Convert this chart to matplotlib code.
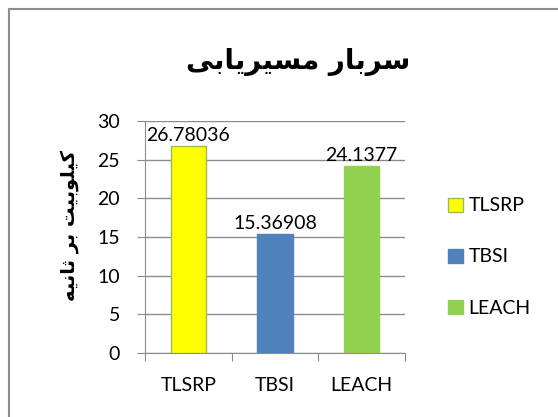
import matplotlib.pyplot as plt
from matplotlib.lines import Line2D
from matplotlib.patches import Patch

# data
categories = ['TLSRP', 'TBSI', 'LEACH']
values = [26.78036, 15.36908, 24.1377]
labels = ['26.78036', '15.36908', '24.1377']
colors = ['#FFFF00', '#4F81BD', '#92D050']
edges = ['#9BBB59', '#4F81BD', '#92D050']
yticks = [0, 5, 10, 15, 20, 25, 30]

# Persian text written in presentation forms, visual (left-to-right) order
title_fa = '\uFEB3\uFEAE\uFE91\uFE8E\uFEAD \uFEE3\uFEB4\uFEF4\uFEAE\uFEF3\uFE8E\uFE91\uFEF0'[::-1]
ylabel_fa = '\uFEDB\uFEF4\uFEE0\uFEEE\uFE91\uFEF4\uFE96 \uFE91\uFEAE \uFE9B\uFE8E\uFEE7\uFEF4\uFEEA'[::-1]

plt.rcParams['font.family'] = ['Lato', 'DejaVu Sans']

fig = plt.figure(figsize=(5.58, 4.17), dpi=100)
# chart border (only the left and top edges are inside the image)
bx, by = 8.5 / 558, 1 - 8.5 / 417
fig.lines.append(Line2D([bx, bx, 1.01], [-0.01, by, by], transform=fig.transFigure,
                        color='#8C8C8C', linewidth=1.5))

ax = fig.add_axes([145 / 558, 1 - 353 / 417, 260 / 558, 232 / 417])
x = list(range(len(categories)))
ax.bar(x, values, width=0.41, color=colors, edgecolor=edges, linewidth=1, zorder=3)

for xi, v, lab in zip(x, values, labels):
    ax.text(xi, v + 0.3, lab, ha='center', va='bottom', fontsize=14, color='black', zorder=4)

ax.set_xlim(-0.5, 2.5)
ax.set_ylim(0, 30)
ax.set_yticks(yticks)
ax.yaxis.grid(True, color='#8C8C8C', linewidth=1)
ax.set_axisbelow(True)
for s in ['top', 'right']:
    ax.spines[s].set_visible(False)
ax.spines['left'].set_color('#8C8C8C')
ax.spines['bottom'].set_color('#8C8C8C')
ax.tick_params(axis='y', length=6, color='#8C8C8C', labelsize=14, pad=12)
ax.set_xticks([-0.5, 0.5, 1.5, 2.5])
ax.set_xticklabels([])
ax.tick_params(axis='x', length=6, color='#8C8C8C')
for xi, c in zip(x, categories):
    ax.text(xi, -3.1, c, ha='center', va='top', fontsize=14)

ax.set_ylabel(ylabel_fa, fontsize=14, fontweight='bold', family=['DejaVu Sans'])
ax.yaxis.set_label_coords(-66 / 260, 0.55)
fig.text(0.535, 1 - 62 / 417, title_fa, ha='center', va='center', fontsize=20,
         fontweight='bold', family=['DejaVu Sans'])

handles = [Patch(facecolor=c, edgecolor=e) for c, e in zip(colors, edges)]
fig.legend(handles, categories, loc='center left', bbox_to_anchor=(0.772, 1 - 257 / 417),
           frameon=False, fontsize=14, labelspacing=1.75, handlelength=0.75,
           handleheight=0.75, handletextpad=0.3)

fig.savefig('out.png', dpi=100)
